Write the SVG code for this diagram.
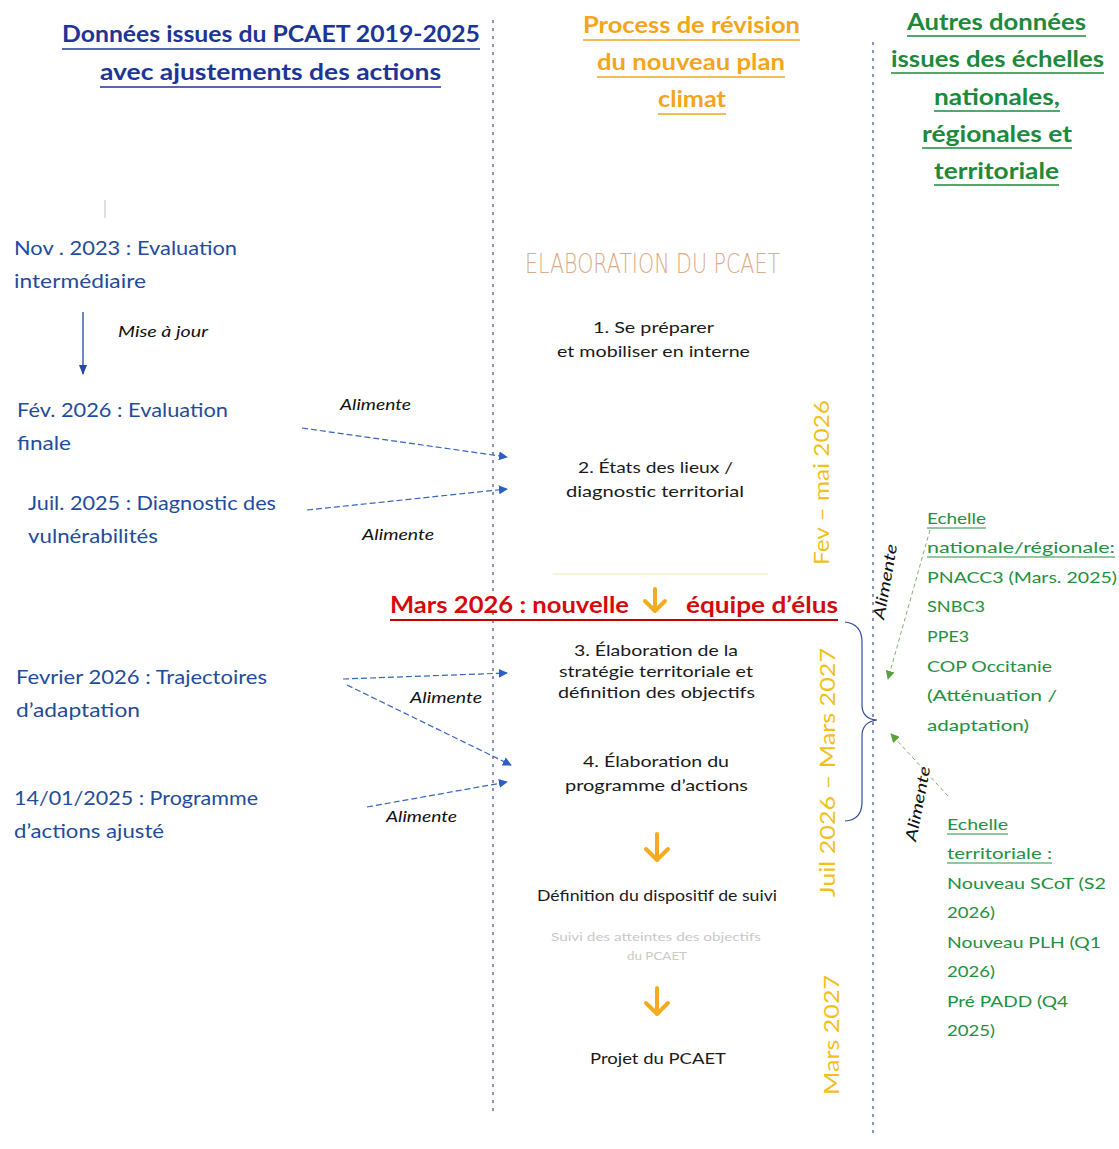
<svg xmlns="http://www.w3.org/2000/svg" width="1119" height="1149" viewBox="0 0 1119 1149">
<style>
text{font-family:Lato,"Open Sans","Liberation Sans",sans-serif}
.tb{font-weight:bold;font-size:23px;fill:#1c3596}
.to{font-weight:bold;font-size:22px;fill:#f3a51b}
.tg{font-weight:bold;font-size:22px;fill:#1c8a3a}
.lb{font-size:19px;fill:#1f4c9c}
.it{font-style:italic;font-size:16px;fill:#111}
.md{font-size:16px;fill:#1a1a1a}
.gr{font-size:16px;fill:#229140}
.yl{font-size:21px;fill:#f2c01e}
.red{font-weight:bold;font-size:22px;fill:#d30b0b}
.ulb{stroke:#1c3596;stroke-width:1.5}
.ulo{stroke:#f3a51b;stroke-width:1.5}
.ulg{stroke:#1c8a3a;stroke-width:1.5}
.ulr{stroke:#c80000;stroke-width:1.8}
.ulgs{stroke:#229140;stroke-width:1}
.div{stroke:#4a5a92;stroke-width:1.3;stroke-dasharray:3 5;fill:none}
.cb{stroke:#3566c0;stroke-width:1.2;stroke-dasharray:6 3;fill:none}
.cg{stroke:#7fb26a;stroke-width:1;stroke-dasharray:4 3;fill:none}
.oa{stroke:#f5ab1f;stroke-width:4;fill:none;stroke-linecap:round;stroke-linejoin:round}
</style>
<defs>
<marker id="mb" viewBox="0 0 10 10" refX="9" refY="5" markerWidth="9" markerHeight="9" markerUnits="userSpaceOnUse" orient="auto"><path d="M0,0 L10,5 L0,10 z" fill="#2d5fbf"/></marker>
<marker id="mg" viewBox="0 0 10 10" refX="9" refY="5" markerWidth="9" markerHeight="9" markerUnits="userSpaceOnUse" orient="auto"><path d="M0,0 L10,5 L0,10 z" fill="#5fa03e"/></marker>
<marker id="md" viewBox="0 0 10 10" refX="9" refY="5" markerWidth="10" markerHeight="10" markerUnits="userSpaceOnUse" orient="auto"><path d="M0,1 L10,5 L0,9 z" fill="#1f4c9c"/></marker>
</defs>
<rect width="1119" height="1149" fill="#ffffff"/>

<g id="dividers">
<line class="div" x1="493" y1="20" x2="493" y2="1115"/>
<line class="div" x1="873" y1="42" x2="873" y2="1135"/>
<line x1="105" y1="200" x2="105" y2="218" stroke="#d6d6d6" stroke-width="1.5"/>
<line x1="553" y1="574" x2="768" y2="574" stroke="#f4f0cf" stroke-width="1.5"/>
</g>

<g id="header-left">
<text class="tb" x="62" y="42" textLength="418" lengthAdjust="spacingAndGlyphs">Données issues du PCAET 2019-2025</text>
<line class="ulb" x1="62" y1="49" x2="480" y2="49"/>
<text class="tb" x="100" y="80" textLength="341" lengthAdjust="spacingAndGlyphs">avec ajustements des actions</text>
<line class="ulb" x1="100" y1="87" x2="441" y2="87"/>
</g>

<g id="header-middle">
<text class="to" x="583" y="33" textLength="217" lengthAdjust="spacingAndGlyphs">Process de révision</text>
<line class="ulo" x1="583" y1="40" x2="800" y2="40"/>
<text class="to" x="597" y="70" textLength="188" lengthAdjust="spacingAndGlyphs">du nouveau plan</text>
<line class="ulo" x1="597" y1="77" x2="785" y2="77"/>
<text class="to" x="658" y="107" textLength="68" lengthAdjust="spacingAndGlyphs">climat</text>
<line class="ulo" x1="658" y1="114" x2="726" y2="114"/>
</g>

<g id="header-right">
<text class="tg" x="907" y="30" textLength="179" lengthAdjust="spacingAndGlyphs">Autres données</text>
<line class="ulg" x1="907" y1="36" x2="1086" y2="36"/>
<text class="tg" x="891" y="67" textLength="213" lengthAdjust="spacingAndGlyphs">issues des échelles</text>
<line class="ulg" x1="891" y1="73" x2="1104" y2="73"/>
<text class="tg" x="934" y="105" textLength="126" lengthAdjust="spacingAndGlyphs">nationales,</text>
<line class="ulg" x1="934" y1="111" x2="1060" y2="111"/>
<text class="tg" x="922" y="142" textLength="150" lengthAdjust="spacingAndGlyphs">régionales et</text>
<line class="ulg" x1="922" y1="148" x2="1072" y2="148"/>
<text class="tg" x="934" y="179" textLength="125" lengthAdjust="spacingAndGlyphs">territoriale</text>
<line class="ulg" x1="934" y1="185" x2="1059" y2="185"/>
</g>

<g id="nov2023">
<text class="lb" x="14" y="255" textLength="223" lengthAdjust="spacingAndGlyphs">Nov . 2023 : Evaluation</text>
<text class="lb" x="14" y="288" textLength="132" lengthAdjust="spacingAndGlyphs">intermédiaire</text>
</g>
<g id="fev2026">
<text class="lb" x="17" y="417" textLength="211" lengthAdjust="spacingAndGlyphs">Fév. 2026 : Evaluation</text>
<text class="lb" x="17" y="450" textLength="54" lengthAdjust="spacingAndGlyphs">finale</text>
</g>
<g id="juil2025">
<text class="lb" x="28" y="510" textLength="248" lengthAdjust="spacingAndGlyphs">Juil. 2025 : Diagnostic des</text>
<text class="lb" x="28" y="543" textLength="130" lengthAdjust="spacingAndGlyphs">vulnérabilités</text>
</g>
<g id="fevrier2026">
<text class="lb" x="16" y="684" textLength="251" lengthAdjust="spacingAndGlyphs">Fevrier 2026 : Trajectoires</text>
<text class="lb" x="16" y="717" textLength="124" lengthAdjust="spacingAndGlyphs">d’adaptation</text>
</g>
<g id="prog2025">
<text class="lb" x="14" y="805" textLength="244" lengthAdjust="spacingAndGlyphs">14/01/2025 : Programme</text>
<text class="lb" x="14" y="838" textLength="150" lengthAdjust="spacingAndGlyphs">d’actions ajusté</text>
</g>

<g id="elaboration-title">
<text x="525" y="273" font-size="26" fill="#dcab88" textLength="255" lengthAdjust="spacingAndGlyphs" style="font-family:'DejaVu Sans','Liberation Sans',sans-serif;font-weight:200">ELABORATION DU PCAET</text>
</g>
<g id="step1">
<text class="md" x="593" y="333" textLength="121" lengthAdjust="spacingAndGlyphs">1. Se préparer</text>
<text class="md" x="557" y="357" textLength="193" lengthAdjust="spacingAndGlyphs">et mobiliser en interne</text>
</g>
<g id="step2">
<text class="md" x="578" y="473" textLength="155" lengthAdjust="spacingAndGlyphs">2. États des lieux /</text>
<text class="md" x="566" y="497" textLength="178" lengthAdjust="spacingAndGlyphs">diagnostic territorial</text>
</g>
<g id="mars2026">
<text class="red" x="390" y="613" textLength="239" lengthAdjust="spacingAndGlyphs">Mars 2026 : nouvelle</text>
<text class="red" x="686" y="613" textLength="152" lengthAdjust="spacingAndGlyphs">équipe d’élus</text>
<line class="ulr" x1="390" y1="620" x2="838" y2="620"/>
<path class="oa" d="M655,589 L655,610 M645,601 L655,611 L665,601"/>
</g>
<g id="step3">
<text class="md" x="574" y="656" textLength="164" lengthAdjust="spacingAndGlyphs">3. Élaboration de la</text>
<text class="md" x="559" y="677" textLength="194" lengthAdjust="spacingAndGlyphs">stratégie territoriale et</text>
<text class="md" x="558" y="698" textLength="197" lengthAdjust="spacingAndGlyphs">définition des objectifs</text>
</g>
<g id="step4">
<text class="md" x="583" y="767" textLength="146" lengthAdjust="spacingAndGlyphs">4. Élaboration du</text>
<text class="md" x="565" y="791" textLength="183" lengthAdjust="spacingAndGlyphs">programme d’actions</text>
</g>
<g id="suivi">
<path class="oa" d="M657,834 L657,858 M646,849 L657,860 L668,849"/>
<text class="md" x="537" y="901" textLength="240" lengthAdjust="spacingAndGlyphs">Définition du dispositif de suivi</text>
<text x="551" y="941" font-size="11" fill="#c9c9c9" textLength="210" lengthAdjust="spacingAndGlyphs">Suivi des atteintes des objectifs</text>
<text x="627" y="960" font-size="11" fill="#c9c9c9" textLength="60" lengthAdjust="spacingAndGlyphs">du PCAET</text>
</g>
<g id="projet">
<path class="oa" d="M657,988 L657,1012 M646,1003 L657,1014 L668,1003"/>
<text class="md" x="590" y="1064" textLength="136" lengthAdjust="spacingAndGlyphs">Projet du PCAET</text>
</g>

<g id="periods">
<text class="yl" transform="translate(829,565) rotate(-90)" textLength="165" lengthAdjust="spacingAndGlyphs">Fev – mai 2026</text>
<text class="yl" transform="translate(835,897) rotate(-90)" textLength="249" lengthAdjust="spacingAndGlyphs">Juil 2026 – Mars 2027</text>
<text class="yl" transform="translate(839,1095) rotate(-90)" textLength="120" lengthAdjust="spacingAndGlyphs">Mars 2027</text>
</g>

<g id="right-national">
<text class="gr" x="927" y="524" textLength="59" lengthAdjust="spacingAndGlyphs">Echelle</text>
<line class="ulgs" x1="927" y1="528" x2="986" y2="528"/>
<text class="gr" x="927" y="553" textLength="188" lengthAdjust="spacingAndGlyphs">nationale/régionale:</text>
<line class="ulgs" x1="927" y1="557" x2="1115" y2="557"/>
<text class="gr" x="927" y="583" textLength="190" lengthAdjust="spacingAndGlyphs">PNACC3 (Mars. 2025)</text>
<text class="gr" x="927" y="612" textLength="58" lengthAdjust="spacingAndGlyphs">SNBC3</text>
<text class="gr" x="927" y="642" textLength="42" lengthAdjust="spacingAndGlyphs">PPE3</text>
<text class="gr" x="927" y="672" textLength="125" lengthAdjust="spacingAndGlyphs">COP Occitanie</text>
<text class="gr" x="927" y="701" textLength="130" lengthAdjust="spacingAndGlyphs">(Atténuation /</text>
<text class="gr" x="927" y="731" textLength="102" lengthAdjust="spacingAndGlyphs">adaptation)</text>
</g>
<g id="right-territorial">
<text class="gr" x="947" y="830" textLength="61" lengthAdjust="spacingAndGlyphs">Echelle</text>
<line class="ulgs" x1="947" y1="834" x2="1008" y2="834"/>
<text class="gr" x="947" y="859" textLength="105" lengthAdjust="spacingAndGlyphs">territoriale :</text>
<line class="ulgs" x1="947" y1="863" x2="1052" y2="863"/>
<text class="gr" x="947" y="889" textLength="159" lengthAdjust="spacingAndGlyphs">Nouveau SCoT (S2</text>
<text class="gr" x="947" y="918" textLength="48" lengthAdjust="spacingAndGlyphs">2026)</text>
<text class="gr" x="947" y="948" textLength="154" lengthAdjust="spacingAndGlyphs">Nouveau PLH (Q1</text>
<text class="gr" x="947" y="977" textLength="48" lengthAdjust="spacingAndGlyphs">2026)</text>
<text class="gr" x="947" y="1007" textLength="121" lengthAdjust="spacingAndGlyphs">Pré PADD (Q4</text>
<text class="gr" x="947" y="1036" textLength="48" lengthAdjust="spacingAndGlyphs">2025)</text>
</g>

<g id="connectors">
<line x1="83" y1="312" x2="83" y2="374" stroke="#1f4c9c" stroke-width="1.3" marker-end="url(#md)"/>
<text class="it" x="118" y="337" textLength="90" lengthAdjust="spacingAndGlyphs">Mise à jour</text>
<line class="cb" x1="302" y1="428" x2="507" y2="457" marker-end="url(#mb)"/>
<text class="it" x="340" y="410" textLength="71" lengthAdjust="spacingAndGlyphs">Alimente</text>
<line class="cb" x1="307" y1="510" x2="507" y2="489" marker-end="url(#mb)"/>
<text class="it" x="362" y="540" textLength="72" lengthAdjust="spacingAndGlyphs">Alimente</text>
<line class="cb" x1="343" y1="679" x2="507" y2="673" marker-end="url(#mb)"/>
<line class="cb" x1="347" y1="685" x2="511" y2="765" marker-end="url(#mb)"/>
<text class="it" x="410" y="703" textLength="72" lengthAdjust="spacingAndGlyphs">Alimente</text>
<line class="cb" x1="367" y1="807" x2="507" y2="782" marker-end="url(#mb)"/>
<text class="it" x="386" y="822" textLength="71" lengthAdjust="spacingAndGlyphs">Alimente</text>
<path d="M845,622 Q862,624 862,642 L862,705 Q862,719 877,720 Q862,722 862,736 L862,802 Q862,820 845,821" fill="none" stroke="#2f4f9a" stroke-width="1.2"/>
<line class="cg" x1="930" y1="530" x2="888" y2="679" marker-end="url(#mg)"/>
<line class="cg" x1="948" y1="796" x2="891" y2="734" marker-end="url(#mg)"/>
<text class="it" transform="translate(884,620) rotate(-80)" textLength="76" lengthAdjust="spacingAndGlyphs">Alimente</text>
<text class="it" transform="translate(916,842) rotate(-79)" textLength="76" lengthAdjust="spacingAndGlyphs">Alimente</text>
</g>
</svg>
